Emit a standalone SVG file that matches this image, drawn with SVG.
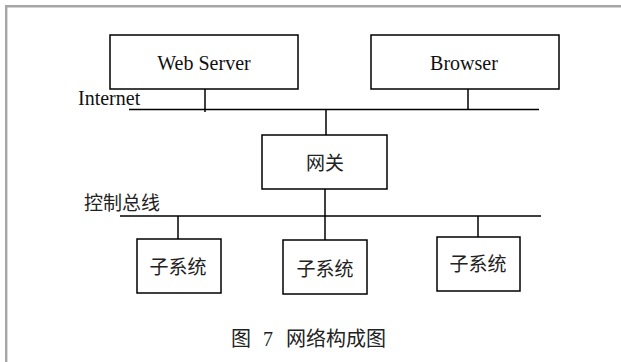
<svg xmlns="http://www.w3.org/2000/svg" width="621" height="362" viewBox="0 0 621 362">
<style>
.box{fill:#fff;stroke:#000;stroke-width:1.5}
.ln{stroke:#000;stroke-width:1.5;fill:none}
.lat{font-family:"Liberation Serif","Times New Roman",serif;font-size:20px;fill:#111}
.cjk{font-family:"Noto Sans CJK SC",sans-serif;font-size:19px;fill:#222}
.cap{font-family:"Liberation Serif","Noto Sans CJK SC",serif;font-size:20px;fill:#222}
</style>
<rect width="621" height="362" fill="#fff"/>
<path d="M6.2 362 V6.2 H621" fill="none" stroke="#a6a6a6" stroke-width="2.4"/>
<g id="connectors">
<line class="ln" x1="129" y1="109.5" x2="539" y2="109.5"/>
<line class="ln" x1="205" y1="89" x2="205" y2="112"/>
<line class="ln" x1="468" y1="89" x2="468" y2="109.5"/>
<line class="ln" x1="326" y1="109.5" x2="326" y2="135"/>
<line class="ln" x1="325" y1="189" x2="325" y2="216"/>
<line class="ln" x1="120" y1="216" x2="541" y2="216"/>
<line class="ln" x1="178" y1="216" x2="178" y2="239"/>
<line class="ln" x1="325" y1="216" x2="325" y2="240"/>
<line class="ln" x1="478" y1="216" x2="478" y2="237"/>
</g>
<g id="internet-label"><text class="lat" x="78" y="105">Internet</text></g>
<g id="bus-label"><text class="cjk" x="84" y="210">控制总线</text></g>
<g id="webserver"><rect class="box" x="110" y="35" width="188" height="54"/><text class="lat" x="204" y="70" text-anchor="middle">Web Server</text></g>
<g id="browser"><rect class="box" x="371" y="35" width="188" height="54"/><text class="lat" x="464" y="70" text-anchor="middle">Browser</text></g>
<g id="gateway"><rect class="box" x="262" y="135" width="125" height="54"/><text class="cjk" x="325" y="170" text-anchor="middle">网关</text></g>
<g id="sub1"><rect class="box" x="137" y="239" width="84" height="54"/><text class="cjk" x="178" y="274" text-anchor="middle">子系统</text></g>
<g id="sub2"><rect class="box" x="283" y="240" width="84" height="54" stroke-width="2"/><text class="cjk" x="325" y="276" text-anchor="middle">子系统</text></g>
<g id="sub3"><rect class="box" x="437" y="237" width="83" height="54" stroke-width="2"/><text class="cjk" x="478" y="271" text-anchor="middle">子系统</text></g>
<g id="caption"><text class="cap" y="346"><tspan x="231">图 </tspan><tspan x="263">7 </tspan><tspan x="286">网络构成图</tspan></text></g>
</svg>
